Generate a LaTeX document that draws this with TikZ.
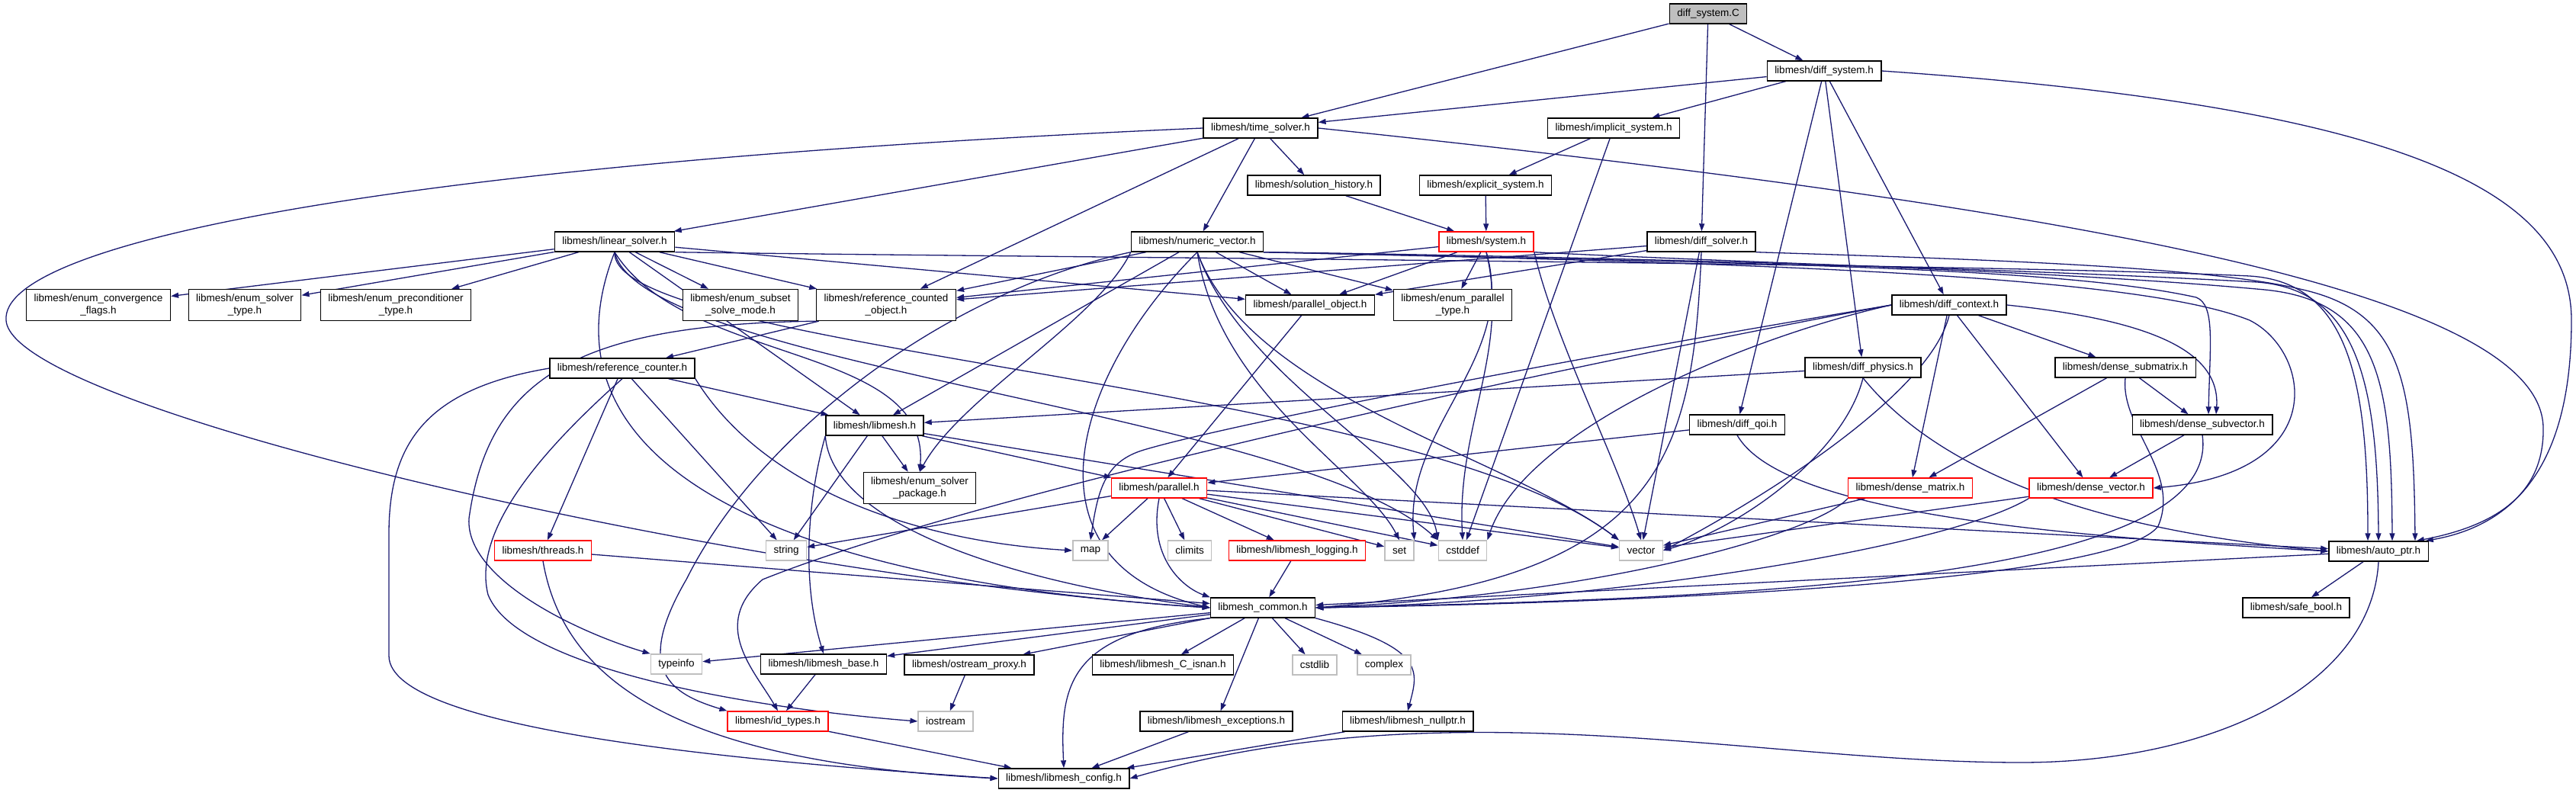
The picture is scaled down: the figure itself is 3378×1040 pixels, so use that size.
\documentclass[tikz,border=0pt]{standalone}
\usepackage{fontspec}
\setmainfont{Liberation Sans}
\usetikzlibrary{arrows.meta,backgrounds}
\definecolor{edgeblue}{HTML}{191970}
\definecolor{sysgray}{HTML}{BFBFBF}
\tikzset{
  box/.style={draw=#1,fill=white,line width=1.4pt,minimum height=26pt,inner xsep=10pt,inner ysep=1pt,font=\fontsize{13.5}{15.5}\selectfont},
  box/.default={black},
  std/.style={box=sysgray},
  bad/.style={box=red},
  two/.style={align=center,minimum height=41pt},
  arr/.style={-{Triangle[length=10pt,width=7pt]},line width=1.3pt,draw=edgeblue},
}
\begin{document}
\begin{tikzpicture}[x=1pt,y=-1pt]
 \useasboundingbox (0,0) rectangle (3378,1040);
 \node[box,fill=sysgray] (dsC) at (2240,18) {diff\_system.C};
 \node[box] (dsh) at (2392,93) {libmesh/diff\_system.h};
 \node[box] (ts) at (1653,168) {libmesh/time\_solver.h};
 \node[box] (impl) at (2116,168) {libmesh/implicit\_system.h};
 \node[box] (sh) at (1723,243) {libmesh/solution\_history.h};
 \node[box] (expl) at (1948,243) {libmesh/explicit\_system.h};
 \node[box] (ls) at (806,317) {libmesh/linear\_solver.h};
 \node[box] (nv) at (1570,317) {libmesh/numeric\_vector.h};
 \node[bad] (sys) at (1949,317) {libmesh/system.h};
 \node[box] (dsolv) at (2231,317) {libmesh/diff\_solver.h};
 \node[box,two] (ecf) at (129,400) {libmesh/enum\_convergence\\\_flags.h};
 \node[box,two] (est) at (321,400) {libmesh/enum\_solver\\\_type.h};
 \node[box,two] (ept) at (519,400) {libmesh/enum\_preconditioner\\\_type.h};
 \node[box,two] (essm) at (971,400) {libmesh/enum\_subset\\\_solve\_mode.h};
 \node[box,two] (rco) at (1162,400) {libmesh/reference\_counted\\\_object.h};
 \node[box] (po) at (1718,400) {libmesh/parallel\_object.h};
 \node[box,two] (epar) at (1905,400) {libmesh/enum\_parallel\\\_type.h};
 \node[box] (dctx) at (2556,400) {libmesh/diff\_context.h};
 \node[box] (rc) at (816,483) {libmesh/reference\_counter.h};
 \node[box] (dphys) at (2443,482) {libmesh/diff\_physics.h};
 \node[box] (dsm) at (2787,482) {libmesh/dense\_submatrix.h};
 \node[box] (lm) at (1147,558) {libmesh/libmesh.h};
 \node[box] (dqoi) at (2278,557) {libmesh/diff\_qoi.h};
 \node[box] (dsv) at (2888,557) {libmesh/dense\_subvector.h};
 \node[box,two] (esp) at (1206,640) {libmesh/enum\_solver\\\_package.h};
 \node[bad] (par) at (1520,640) {libmesh/parallel.h};
 \node[bad] (dmat) at (2505,640) {libmesh/dense\_matrix.h};
 \node[bad] (dvec) at (2742,640) {libmesh/dense\_vector.h};
 \node[bad] (thr) at (712,722) {libmesh/threads.h};
 \node[std] (str) at (1031,722) {string};
 \node[std] (map) at (1430,722) {map};
 \node[std] (clim) at (1560,722) {climits};
 \node[bad] (log) at (1701,722) {libmesh/libmesh\_logging.h};
 \node[std] (set) at (1835,722) {set};
 \node[std] (cstddef) at (1918,722) {cstddef};
 \node[std] (vec) at (2152,722) {vector};
 \node[box] (aptr) at (3119,723) {libmesh/auto\_ptr.h};
 \node[box] (com) at (1656,797) {libmesh\_common.h};
 \node[box] (sb) at (3011,797) {libmesh/safe\_bool.h};
 \node[std] (tinfo) at (887,871) {typeinfo};
 \node[box] (lbase) at (1080,871) {libmesh/libmesh\_base.h};
 \node[box] (osp) at (1271,872) {libmesh/ostream\_proxy.h};
 \node[box] (isnan) at (1525,872) {libmesh/libmesh\_C\_isnan.h};
 \node[std] (cstdlib) at (1724,872) {cstdlib};
 \node[std] (cplx) at (1815,872) {complex};
 \node[bad] (idt) at (1020,946) {libmesh/id\_types.h};
 \node[std] (ios) at (1240,946) {iostream};
 \node[box] (exc) at (1595,946) {libmesh/libmesh\_exceptions.h};
 \node[box] (nptr) at (1846,946) {libmesh/libmesh\_nullptr.h};
 \node[box] (cfg) at (1395,1021) {libmesh/libmesh\_config.h};
 \begin{scope}[on background layer]
 \foreach \a/\b in {dsC/ts,dsC/dsh,dsC/dsolv,dsh/ts,dsh/impl,dsh/dqoi,dsh/dphys,dsh/dctx,
   ts/ls,ts/sh,ts/nv,ts/rco,impl/expl,impl/cstddef,sh/sys,expl/sys,
   ls/ecf,ls/est,ls/ept,ls/essm,ls/rco,ls/po,ls/lm,
   nv/rco,nv/po,nv/epar,nv/lm,sys/rco,sys/po,sys/epar,dsolv/rco,dsolv/po,dsolv/vec,
   po/par,rco/rc,dctx/dsm,dctx/dmat,dctx/dvec,dphys/lm,dqoi/par,dsm/dmat,dsm/dsv,dsv/dvec,
   dmat/vec,dvec/vec,rc/thr,rc/str,rc/lm,thr/com,lm/esp,lm/par,lm/str,lm/vec,
   par/str,par/map,par/clim,par/log,par/set,par/cstddef,par/vec,par/aptr,log/com,aptr/sb,aptr/com,
   com/tinfo,com/lbase,com/osp,com/isnan,com/cstdlib,com/cplx,com/exc,lbase/idt,osp/ios,exc/cfg,nptr/cfg,idt/cfg}
   \draw[arr] (\a) -- (\b);
 % long ones
 \draw[arr] (dsh.east) .. controls (3150,140) and (3372,250) .. (3372,420) .. controls (3372,620) and (3290,690) .. ([xshift=-4pt]aptr.north east);
 \draw[arr] (ts.east) .. controls (2700,270) and (3330,380) .. (3335,560) .. controls (3337,650) and (3270,690) .. ([xshift=-16pt]aptr.north east);
 \draw[arr] (ts.west) .. controls (500,215) and (0,320) .. (8,420) .. controls (15,540) and (1000,760) .. (com.west);
 \draw[arr] (ls.south east) .. controls (1400,338) and (2600,345) .. (2950,362) .. controls (3080,370) and (3105,500) .. ([xshift=-14pt]aptr.north);
 \draw[arr] (nv.south east) .. controls (2000,335) and (2600,350) .. (2960,370) .. controls (3090,380) and (3118,500) .. (aptr.north);
 \draw[arr] (sys.south east) .. controls (2300,345) and (2700,355) .. (2970,380) .. controls (3120,395) and (3136,500) .. ([xshift=18pt]aptr.north);
 \draw[arr] (dsolv.south east) .. controls (2600,340) and (2900,350) .. (3020,380) .. controls (3150,410) and (3165,500) .. ([xshift=48pt]aptr.north);
 \draw[arr] (ls.south) .. controls (900,480) and (1220,450) .. (esp.north);
 \draw[arr] (ls.south) .. controls (700,600) and (1000,760) .. (com.west);
 \draw[arr] (ls.south) .. controls (800,460) and (1850,500) .. (vec.north west);
 \draw[arr] (ls.south) .. controls (840,480) and (1700,540) .. (cstddef.north west);
 \draw[arr] (nv.south east) .. controls (2300,345) and (2700,350) .. (2880,390) .. controls (2905,400) and (2898,450) .. ([xshift=8pt]dsv.north);
 \draw[arr] (nv.south east) .. controls (2300,345) and (2800,360) .. (2950,420) .. controls (3030,460) and (3060,620) .. (dvec.east);
 \draw[arr] (nv.south) .. controls (1640,520) and (1980,600) .. (vec.north west);
 \draw[arr] (nv.south west) .. controls (1440,420) and (1260,520) .. (esp.north);
 \draw[arr] (nv.south) .. controls (1600,520) and (1790,620) .. (set.north);
 \draw[arr] (nv.south) .. controls (1630,500) and (1870,610) .. (cstddef.north west);
 \draw[arr] (nv.south) .. controls (1400,500) and (1340,740) .. (com.west);
 \draw[arr] (nv.south west) .. controls (1250,380) and (1000,560) .. (900,760) .. controls (830,880) and (880,910) .. (idt.north west);
 \draw[arr] (sys.south) .. controls (1990,470) and (1840,560) .. (set.north east);
 \draw[arr] (sys.south) .. controls (1980,460) and (1910,560) .. (cstddef.north);
 \draw[arr] (sys.south east) .. controls (2040,450) and (2120,600) .. (vec.north);
 \draw[arr] (dctx.east) .. controls (2820,420) and (2912,460) .. ([xshift=18pt]dsv.north);
 \draw[arr] (dctx.south) .. controls (2530,520) and (2300,660) .. (vec.east);
 \draw[arr] (dctx.west) .. controls (2000,480) and (1600,560) .. (1500,590) .. controls (1450,605) and (1440,640) .. (map.north);
 \draw[arr] (dctx.west) .. controls (2100,470) and (1300,640) .. (1000,760) .. controls (930,820) and (990,880) .. (idt.north);
 \draw[arr] (dctx.west) .. controls (2300,440) and (2000,560) .. (cstddef.north east);
 \draw[arr] (dphys.south) .. controls (2420,590) and (2290,690) .. (vec.east);
 \draw[arr] (dphys.south) .. controls (2560,640) and (2800,700) .. (aptr.west);
 \draw[arr] (dqoi.south) .. controls (2340,680) and (2750,705) .. (aptr.west);
 \draw[arr] (dsolv.south) .. controls (2220,600) and (2180,760) .. (com.east);
 \draw[arr] (dsm.south) .. controls (2780,560) and (2860,620) .. (2830,690) .. controls (2780,760) and (2200,790) .. (com.east);
 \draw[arr] (dsv.south) .. controls (2915,760) and (2300,785) .. (com.east);
 \draw[arr] (dmat.south west) .. controls (2380,700) and (2100,780) .. (com.east);
 \draw[arr] (dvec.south west) .. controls (2550,720) and (2100,790) .. (com.east);
 \draw[arr] (rco.south west) .. controls (750,425) and (640,500) .. (615,680) .. controls (610,760) and (760,830) .. (tinfo.north west);
 \draw[arr] (rc.west) .. controls (560,510) and (510,580) .. (510,700) -- (510,860) .. controls (510,960) and (1000,1000) .. (cfg.west);
 \draw[arr] (rc.south) .. controls (700,600) and (620,700) .. (640,780) .. controls (680,880) and (1000,930) .. (ios.west);
 \draw[arr] (rc.south east) .. controls (1000,640) and (1200,710) .. (map.west);
 \draw[arr] (thr.south) .. controls (740,900) and (900,1000) .. (cfg.west);
 \draw[arr] (lm.south west) .. controls (1060,650) and (1050,760) .. (lbase.north);
 \draw[arr] (lm.south west) .. controls (1090,680) and (1300,760) .. (com.west);
 \draw[arr] (par.south) .. controls (1505,730) and (1550,770) .. (com.north west);
 \draw[arr] (aptr.south) .. controls (3110,900) and (2900,1000) .. (2650,1000) .. controls (2300,1000) and (1900,900) .. (cfg.east);
 \draw[arr] (com.south west) .. controls (1400,830) and (1390,900) .. (cfg.north);
 \draw[arr] (com.south east) .. controls (1870,850) and (1860,880) .. (nptr.north);
 \end{scope}
\end{tikzpicture}
\end{document}
